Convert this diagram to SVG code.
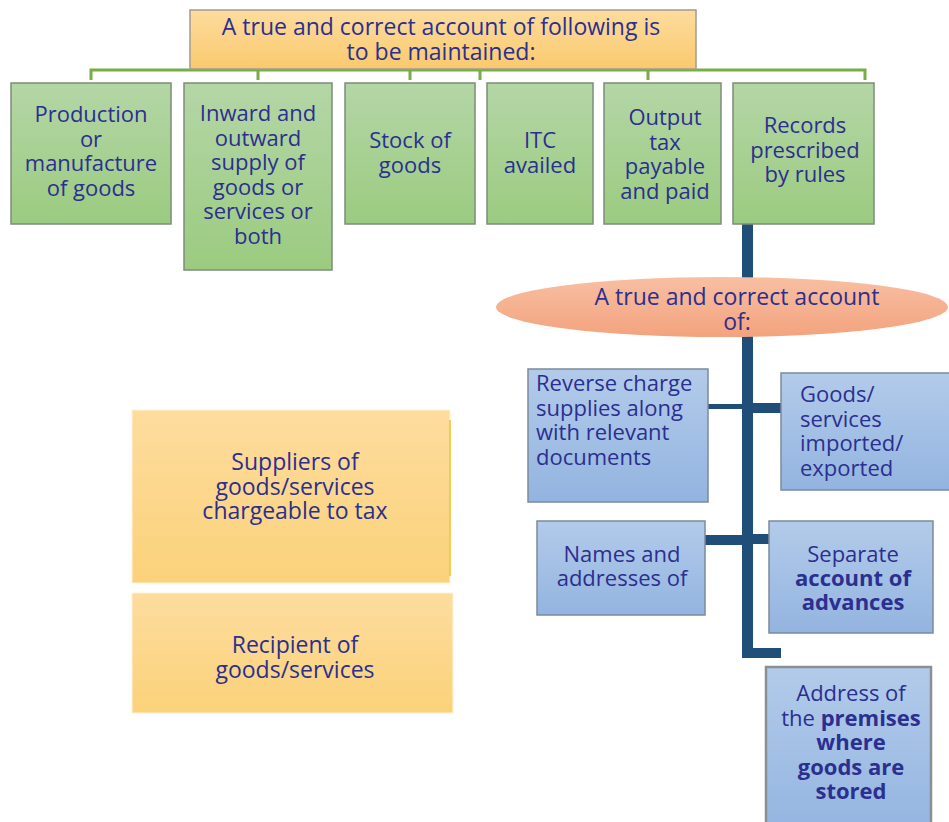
<svg xmlns="http://www.w3.org/2000/svg" width="949" height="822" viewBox="0 0 949 822">
<defs>
<linearGradient id="gOr" x1="0" y1="0" x2="0" y2="1"><stop offset="0" stop-color="#FDDC9E"/><stop offset="1" stop-color="#FAC96E"/></linearGradient>
<linearGradient id="gOr2" x1="0" y1="0" x2="0" y2="1"><stop offset="0" stop-color="#FDDC9E"/><stop offset="1" stop-color="#FBD27A"/></linearGradient>
<linearGradient id="gGr" x1="0" y1="0" x2="0" y2="1"><stop offset="0" stop-color="#B4D6A6"/><stop offset="1" stop-color="#9BCB80"/></linearGradient>
<linearGradient id="gBl" x1="0" y1="0" x2="0" y2="1"><stop offset="0" stop-color="#B3CBEA"/><stop offset="1" stop-color="#93B4E0"/></linearGradient>
<linearGradient id="gSa" x1="0" y1="0" x2="0" y2="1"><stop offset="0" stop-color="#F8BFA2"/><stop offset="1" stop-color="#F3A37E"/></linearGradient>
</defs>
<style>
text{font-family:"Open Sans","Liberation Sans",sans-serif;fill:#2B2F8F;font-size:22px;text-anchor:middle}
.t23{font-size:23px}
.l{text-anchor:start}
.b{font-weight:bold}
.gr{fill:url(#gGr);stroke:#7E8C7A;stroke-width:1.5}
.bl{fill:url(#gBl);stroke:#7C8A9C;stroke-width:1.5}
.or{fill:url(#gOr);stroke:#A39C8C;stroke-width:1.5}
.or2{fill:url(#gOr2);stroke:#FFF3D6;stroke-width:1}
.gl{fill:none;stroke:#77AD47;stroke-width:3}
.dl{fill:#1F4E79}
</style>
<g id="connectors">
<path class="gl" d="M91,80 V70 H865 V80 M258,70 V80 M410,70 V80 M480,70 V80 M648,70 V80"/>
<rect class="dl" x="742" y="224" width="11" height="434"/>
<rect class="dl" x="742" y="648" width="39" height="10"/>
<rect class="dl" x="708" y="404" width="34" height="5"/>
<rect class="dl" x="753" y="403" width="28" height="10"/>
<rect class="dl" x="705" y="535" width="37" height="10"/>
<rect class="dl" x="753" y="534" width="16" height="10"/>
</g>
<g id="title">
<rect class="or" x="190" y="10" width="506" height="59"/>
<text class="t23" x="441" y="35">A true and correct account of following is</text>
<text class="t23" x="441" y="60">to be maintained:</text>
</g>
<g id="production">
<rect class="gr" x="11" y="83" width="160" height="141"/>
<text x="91" y="122">Production</text>
<text x="91" y="146.5">or</text>
<text x="91" y="171">manufacture</text>
<text x="91" y="195.5">of goods</text>
</g>
<g id="inward">
<rect class="gr" x="184" y="83" width="148" height="187"/>
<text x="258" y="121">Inward and</text>
<text x="258" y="145.5">outward</text>
<text x="258" y="170">supply of</text>
<text x="258" y="194.5">goods or</text>
<text x="258" y="219">services or</text>
<text x="258" y="243.5">both</text>
</g>
<g id="stock">
<rect class="gr" x="345" y="83" width="130" height="141"/>
<text x="410" y="148">Stock of</text>
<text x="410" y="172.5">goods</text>
</g>
<g id="itc">
<rect class="gr" x="487" y="83" width="106" height="141"/>
<text x="540" y="148">ITC</text>
<text x="540" y="172.5">availed</text>
</g>
<g id="output">
<rect class="gr" x="604" y="83" width="117" height="141"/>
<text x="665" y="125">Output</text>
<text x="665" y="149.5">tax</text>
<text x="665" y="174">payable</text>
<text x="665" y="198.5">and paid</text>
</g>
<g id="records">
<rect class="gr" x="733" y="83" width="141" height="141"/>
<text x="805" y="133">Records</text>
<text x="805" y="157.5">prescribed</text>
<text x="805" y="182">by rules</text>
</g>
<g id="account">
<ellipse cx="722" cy="307" rx="226" ry="30" fill="url(#gSa)"/>
<text class="t23" x="737" y="305">A true and correct account</text>
<text class="t23" x="737" y="330">of:</text>
</g>
<g id="reverse">
<rect class="bl" x="528" y="369" width="180" height="133"/>
<text class="l" x="536" y="391">Reverse charge</text>
<text class="l" x="536" y="415.5">supplies along</text>
<text class="l" x="536" y="440">with relevant</text>
<text class="l" x="536" y="464.5">documents</text>
</g>
<g id="goods">
<rect class="bl" x="781" y="373" width="170" height="117"/>
<text class="l" x="800" y="402">Goods/</text>
<text class="l" x="800" y="426.5">services</text>
<text class="l" x="800" y="451">imported/</text>
<text class="l" x="800" y="475.5">exported</text>
</g>
<g id="names">
<rect class="bl" x="537" y="521" width="168" height="94"/>
<text x="622" y="562">Names and</text>
<text x="622" y="586">addresses of</text>
</g>
<g id="separate">
<rect class="bl" x="769" y="521" width="164" height="112"/>
<text x="853" y="562">Separate</text>
<text class="b" x="853" y="586">account of</text>
<text class="b" x="853" y="610">advances</text>
</g>
<g id="address">
<rect class="bl" x="766" y="667" width="165" height="170" style="stroke:#8A8F96;stroke-width:2.5"/>
<text x="851" y="701">Address of</text>
<text x="851" y="725.5">the <tspan class="b">premises</tspan></text>
<text class="b" x="851" y="750">where</text>
<text class="b" x="851" y="774.5">goods are</text>
<text class="b" x="851" y="799">stored</text>
</g>
<g id="suppliers">
<rect class="or2" x="132" y="410" width="318" height="173"/>
<line x1="450" y1="420" x2="450" y2="576" stroke="#F2BE2A" stroke-width="1.5"/>
<text class="t23" x="295" y="470">Suppliers of</text>
<text class="t23" x="295" y="494.5">goods/services</text>
<text class="t23" x="295" y="519">chargeable to tax</text>
</g>
<g id="recipient">
<rect class="or2" x="132" y="593" width="321" height="120"/>
<text class="t23" x="295" y="653">Recipient of</text>
<text class="t23" x="295" y="678">goods/services</text>
</g>
</svg>
